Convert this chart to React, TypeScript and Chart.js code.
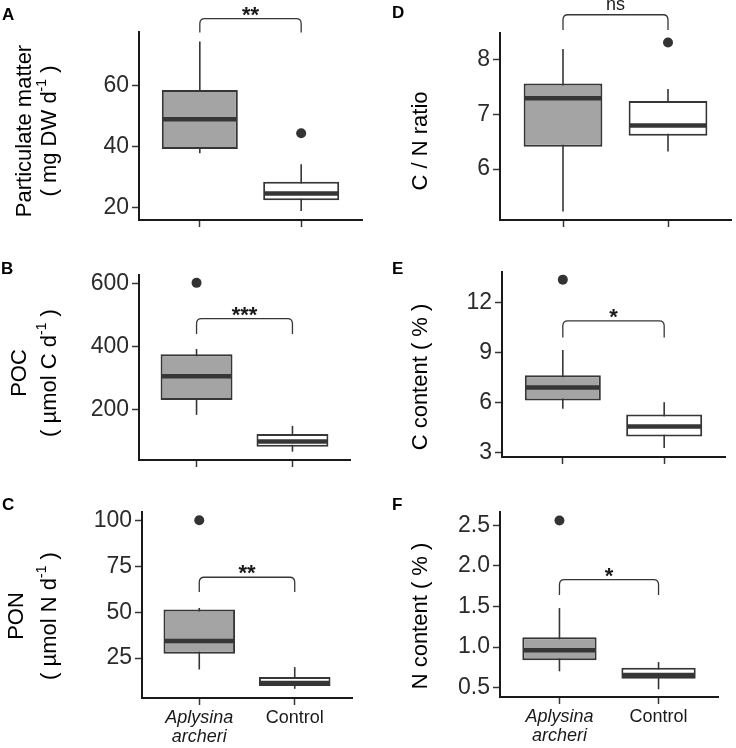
import React, { useEffect, useRef } from 'react';
import { Chart, registerables } from 'chart.js';

Chart.register(...registerables);

const FONT = "'Liberation Sans', Arial, Helvetica, sans-serif";
Chart.defaults.font.family = FONT;

// ---------------- data ----------------
const groups = ['Aplysina archeri', 'Control'];
const groupTickLabels = [['Aplysina', 'archeri'], ['Control']];
const panelLetters = ['A', 'B', 'C', 'D', 'E', 'F'];

// five-number summaries: [lower whisker, Q1, median, Q3, upper whisker]
const pmAplysina = [37.8, 39.2, 49.0, 58.7, 74.7];
const pmControl = [18.8, 22.3, 24.5, 28.4, 34.2];
const pmOutAplysina: number[] = [];
const pmOutControl = [44.4];
const pmTicks = [20, 40, 60];
const pmRange = [15.8, 77.8];
const pmBracket = [82.2, 77.6];

const pocAplysina = [182, 229.5, 304.8, 374.6, 391.7];
const pocControl = [65, 81, 97, 121.6, 147];
const pocOutAplysina = [602];
const pocOutControl: number[] = [];
const pocTicks = [200, 400, 600];
const pocRange = [38.5, 627];
const pocBracket = [488, 439];

const ponAplysina = [18.8, 27.4, 34.3, 51.5, 52.3];
const ponControl = [8.3, 9.8, 11.4, 14.7, 20.1];
const ponOutAplysina = [100];
const ponOutControl: number[] = [];
const ponTicks = [25, 50, 75, 100];
const ponRange = [3.3, 104.5];
const ponBracket = [69.0, 61.0];

const cnAplysina = [5.22, 6.41, 7.3, 7.57, 8.2];
const cnControl = [6.32, 6.61, 6.8, 7.25, 7.47];
const cnOutAplysina: number[] = [];
const cnOutControl = [8.32];
const cnTicks = [6, 7, 8];
const cnRange = [5.065, 8.495];
const cnBracket = [8.83, 8.55];

const cAplysina = [5.62, 6.12, 6.9, 7.64, 9.16];
const cControl = [3.26, 3.96, 4.56, 5.28, 6.02];
const cOutAplysina = [13.4];
const cOutControl: number[] = [];
const cTicks = [3, 6, 9, 12];
const cRange = [2.72, 13.86];
const cBracket = [10.92, 9.92];

const nAplysina = [0.7, 0.836, 0.96, 1.12, 1.48];
const nControl = [0.48, 0.61, 0.655, 0.746, 0.815];
const nOutAplysina = [2.56];
const nOutControl: number[] = [];
const nTicks = [0.5, 1.0, 1.5, 2.0, 2.5];
const nRange = [0.384, 2.664];
const nBracket = [1.83, 1.64];

const sigLabels = ['**', '***', '**', 'ns', '*', '*'];
const yTitles = [
  ['Particulate matter', '( mg DW d{-1} )'],
  ['POC', '( \u00b5mol C d{-1} )'],
  ['PON', '( \u00b5mol N d{-1} )'],
  ['C / N ratio'],
  ['C content ( % )'],
  ['N content ( % )'],
];

// ---------------- layout (page coordinates) ----------------
const GRAY = '#a4a4a4';
const LINE = '#363636';
const AXIS = '#1a1a1a';

type Panel = {
  letter: string;
  a: number[]; c: number[]; oa: number[]; oc: number[];
  ticks: number[]; range: number[]; bracket: number[]; sig: string; decimals: number;
  title: string[]; titleX: number[]; titleY: number;
  letterPos: number[];
  cl: number; ct: number; w: number; h: number;
  L: number; T: number; R: number; B: number; xh: number; bottomRow: boolean;
};

const panels: Panel[] = [
  { letter: panelLetters[0], a: pmAplysina, c: pmControl, oa: pmOutAplysina, oc: pmOutControl, ticks: pmTicks, range: pmRange, bracket: pmBracket, sig: sigLabels[0], decimals: 0,
    title: yTitles[0], titleX: [25, 50], titleY: 131, letterPos: [2, 20],
    cl: 0, ct: 0, w: 368, h: 250, L: 139, T: 32, R: 362, B: 220, xh: 20, bottomRow: false },
  { letter: panelLetters[1], a: pocAplysina, c: pocControl, oa: pocOutAplysina, oc: pocOutControl, ticks: pocTicks, range: pocRange, bracket: pocBracket, sig: sigLabels[1], decimals: 0,
    title: yTitles[1], titleX: [20, 50], titleY: 373, letterPos: [1, 274],
    cl: 0, ct: 250, w: 368, h: 240, L: 139, T: 275, R: 350, B: 460, xh: 20, bottomRow: false },
  { letter: panelLetters[2], a: ponAplysina, c: ponControl, oa: ponOutAplysina, oc: ponOutControl, ticks: ponTicks, range: ponRange, bracket: ponBracket, sig: sigLabels[2], decimals: 0,
    title: yTitles[2], titleX: [17, 50], titleY: 616, letterPos: [2, 510],
    cl: 0, ct: 490, w: 368, h: 258, L: 142, T: 512, R: 352, B: 698, xh: 50, bottomRow: true },
  { letter: panelLetters[3], a: cnAplysina, c: cnControl, oa: cnOutAplysina, oc: cnOutControl, ticks: cnTicks, range: cnRange, bracket: cnBracket, sig: sigLabels[3], decimals: 0,
    title: yTitles[3], titleX: [421], titleY: 141, letterPos: [392, 18],
    cl: 368, ct: 0, w: 368, h: 250, L: 500, T: 33, R: 736, B: 220, xh: 20, bottomRow: false },
  { letter: panelLetters[4], a: cAplysina, c: cControl, oa: cOutAplysina, oc: cOutControl, ticks: cTicks, range: cRange, bracket: cBracket, sig: sigLabels[4], decimals: 0,
    title: yTitles[4], titleX: [421], titleY: 377, letterPos: [392, 274],
    cl: 368, ct: 250, w: 368, h: 240, L: 502, T: 272, R: 725, B: 457, xh: 20, bottomRow: false },
  { letter: panelLetters[5], a: nAplysina, c: nControl, oa: nOutAplysina, oc: nOutControl, ticks: nTicks, range: nRange, bracket: nBracket, sig: sigLabels[5], decimals: 1,
    title: yTitles[5], titleX: [421], titleY: 616, letterPos: [392, 510],
    cl: 368, ct: 490, w: 368, h: 258, L: 500, T: 512, R: 718, B: 697, xh: 50, bottomRow: true },
];

function drawRich(ctx: CanvasRenderingContext2D, text: string, cx: number, cy: number, size: number) {
  const parts: { t: string; sup: boolean; w: number }[] = [];
  const re = /\{([^}]*)\}/g;
  let last = 0;
  let m: RegExpExecArray | null;
  while ((m = re.exec(text))) {
    if (m.index > last) parts.push({ t: text.slice(last, m.index), sup: false, w: 0 });
    parts.push({ t: m[1], sup: true, w: 0 });
    last = re.lastIndex;
  }
  if (last < text.length) parts.push({ t: text.slice(last), sup: false, w: 0 });
  const base = `${size}px ${FONT}`;
  const small = `${Math.round(size * 0.62)}px ${FONT}`;
  let total = 0;
  for (const p of parts) {
    ctx.font = p.sup ? small : base;
    p.w = ctx.measureText(p.t).width;
    total += p.w;
  }
  ctx.save();
  ctx.translate(cx, cy);
  ctx.rotate(-Math.PI / 2);
  ctx.textBaseline = 'middle';
  ctx.textAlign = 'left';
  ctx.fillStyle = '#000';
  let x = -total / 2;
  for (const p of parts) {
    ctx.font = p.sup ? small : base;
    ctx.fillText(p.t, x, p.sup ? -size * 0.36 : 0);
    x += p.w;
  }
  ctx.restore();
}

function makeAnnot(p: Panel) {
  return {
    id: 'annot' + p.letter,
    afterDraw(chart: any) {
      const ctx: CanvasRenderingContext2D = chart.ctx;
      const xs = chart.scales.x;
      const ys = chart.scales.y;
      // significance bracket
      const x1 = xs.getPixelForValue(1);
      const x2 = xs.getPixelForValue(2);
      const yt = ys.getPixelForValue(p.bracket[0]);
      const yb = ys.getPixelForValue(p.bracket[1]);
      const r = 5;
      ctx.save();
      ctx.strokeStyle = LINE;
      ctx.lineWidth = 1.3;
      ctx.beginPath();
      ctx.moveTo(x1, yb);
      ctx.lineTo(x1, yt + r);
      ctx.quadraticCurveTo(x1, yt, x1 + r, yt);
      ctx.lineTo(x2 - r, yt);
      ctx.quadraticCurveTo(x2, yt, x2, yt + r);
      ctx.lineTo(x2, yb);
      ctx.stroke();
      ctx.fillStyle = '#1a1a1a';
      ctx.textAlign = 'center';
      ctx.textBaseline = 'alphabetic';
      if (p.sig === 'ns') {
        ctx.font = `18px ${FONT}`;
        ctx.fillText(p.sig, (x1 + x2) / 2, yt - 5);
      } else {
        ctx.font = `bold 22px ${FONT}`;
        ctx.fillText(p.sig, (x1 + x2) / 2, yt + 3);
      }
      // panel letter
      ctx.fillStyle = '#000';
      ctx.textAlign = 'left';
      ctx.font = `bold 17px ${FONT}`;
      ctx.fillText(p.letter, p.letterPos[0] - p.cl, p.letterPos[1] - p.ct);
      ctx.restore();
      // y-axis title
      p.title.forEach((line, i) => {
        drawRich(ctx, line, p.titleX[i] - p.cl, p.titleY - p.ct, 22);
      });
    },
  };
}

function buildConfig(p: Panel): any {
  const whisker = (x: number, s: number[]) => [{ x, y: s[0] }, { x, y: s[4] }];
  const outliers = [
    ...p.oa.map((v) => ({ x: 1, y: v })),
    ...p.oc.map((v) => ({ x: 2, y: v })),
  ];
  const canvasBottom = p.ct + p.h;
  return {
    type: 'bar',
    data: {
      datasets: [
        { type: 'line', data: whisker(1, p.a), borderColor: LINE, borderWidth: 1.6, pointRadius: 0, order: 5 },
        { type: 'line', data: whisker(2, p.c), borderColor: LINE, borderWidth: 1.6, pointRadius: 0, order: 5 },
        {
          type: 'bar',
          data: [
            { x: 1, y: [p.a[1], p.a[3]] },
            { x: 2, y: [p.c[1], p.c[3]] },
          ],
          backgroundColor: [GRAY, '#ffffff'],
          borderColor: LINE,
          borderWidth: 2,
          borderSkipped: false,
          barPercentage: 0.75,
          categoryPercentage: 1,
          order: 3,
        },
        {
          type: 'scatter',
          data: [
            { x: 1, y: p.a[2] },
            { x: 2, y: p.c[2] },
          ],
          pointStyle: 'line',
          pointRadius: (c: any) => {
            const s = c.chart.scales.x;
            return Math.abs(s.getPixelForValue(1.375) - s.getPixelForValue(1)) - 1;
          },
          pointBorderWidth: 4.5,
          pointBorderColor: LINE,
          borderColor: LINE,
          order: 1,
        },
        {
          type: 'scatter',
          data: outliers,
          pointRadius: 5,
          pointBackgroundColor: '#333333',
          pointBorderWidth: 0,
          order: 0,
        },
      ],
    },
    options: {
      responsive: false,
      animation: false,
      events: [],
      layout: {
        padding: {
          left: 0,
          top: p.T - p.ct,
          right: p.cl + p.w - p.R,
          bottom: canvasBottom - p.B - p.xh,
        },
      },
      plugins: { legend: { display: false }, tooltip: { enabled: false } },
      scales: {
        x: {
          type: 'linear',
          min: 0.4,
          max: 2.6,
          offset: false,
          afterBuildTicks: (s: any) => {
            s.ticks = [{ value: 1 }, { value: 2 }];
          },
          afterFit: (s: any) => {
            s.height = p.xh;
          },
          ticks: {
            display: p.bottomRow,
            autoSkip: false,
            maxRotation: 0,
            padding: 3,
            color: '#1a1a1a',
            callback: (v: number) => groupTickLabels[Math.round(v) - 1],
            font: (c: any) => ({ size: 18, lineHeight: 1.08, style: c.index === 0 ? 'italic' : 'normal' }),
          },
          grid: { offset: false, drawOnChartArea: false, drawTicks: true, tickLength: 7, tickColor: LINE, tickWidth: 1.5 },
          border: { display: true, color: AXIS, width: 2 },
        },
        y: {
          type: 'linear',
          position: 'left',
          min: p.range[0],
          max: p.range[1],
          afterBuildTicks: (s: any) => {
            s.ticks = p.ticks.map((v) => ({ value: v }));
          },
          afterFit: (s: any) => {
            s.width = p.L - p.cl;
          },
          ticks: {
            padding: 3,
            color: '#2b2b2b',
            font: { size: 23 },
            callback: (v: number) => v.toFixed(p.decimals),
          },
          grid: { drawOnChartArea: false, drawTicks: true, tickLength: 7, tickColor: LINE, tickWidth: 1.5 },
          border: { display: true, color: AXIS, width: 2 },
        },
      },
    },
    plugins: [makeAnnot(p)],
  };
}

function BoxPanel({ p }: { p: Panel }) {
  const ref = useRef<HTMLCanvasElement>(null);
  useEffect(() => {
    if (!ref.current) return;
    const chart = new Chart(ref.current, buildConfig(p));
    return () => chart.destroy();
  }, [p]);
  return (
    <canvas
      ref={ref}
      width={p.w}
      height={p.h}
      aria-label={`${p.letter}: ${groups.join(' vs ')}`}
      style={{ position: 'absolute', left: p.cl, top: p.ct, width: p.w, height: p.h }}
    />
  );
}

export default function App() {
  return (
    <div style={{ position: 'absolute', left: 0, top: 0, width: 736, height: 748, background: '#ffffff', overflow: 'hidden' }}>
      {panels.map((p) => (
        <BoxPanel key={p.letter} p={p} />
      ))}
    </div>
  );
}
